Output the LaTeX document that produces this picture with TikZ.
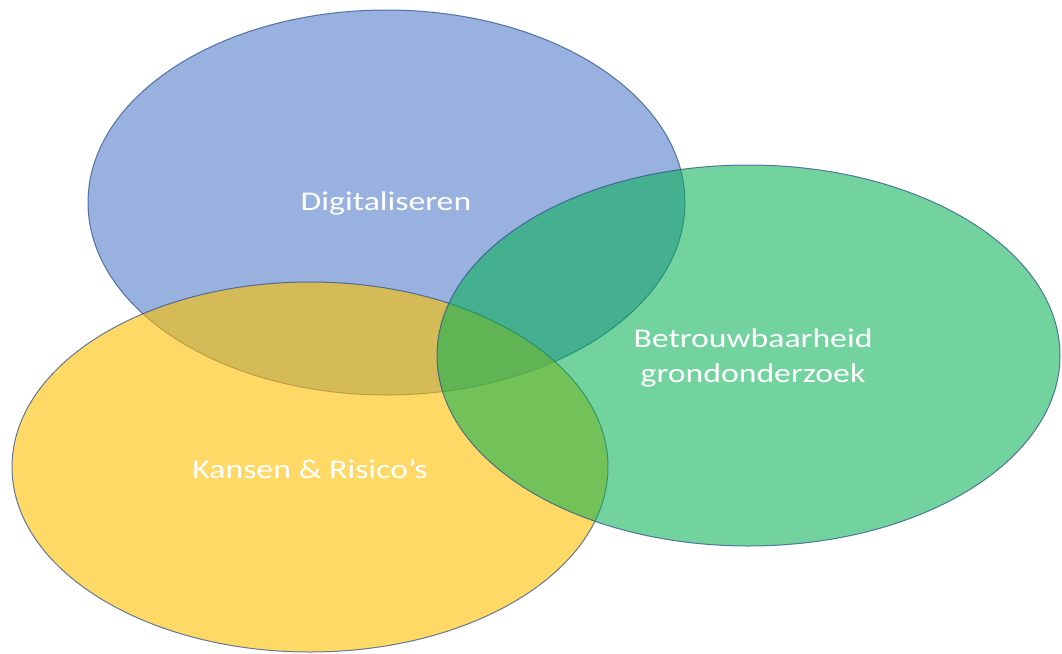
\documentclass[tikz,border=0pt]{standalone}
\usepackage{fontspec}
\setmainfont{Carlito}
\definecolor{cblue}{HTML}{4472C4}
\definecolor{cgold}{HTML}{FFC000}
\definecolor{cgreen}{HTML}{00B050}
\definecolor{cline}{HTML}{2F528F}
\begin{document}
\begin{tikzpicture}[x=1pt,y=-1pt,
  venn/.style={draw=cline, line width=1pt, draw opacity=0.75, fill opacity=0.6},
  lbl/.style={text=white, font=\fontsize{27}{35}\selectfont, xscale=1.25, transform shape, align=center, inner sep=0pt}]
\useasboundingbox (0,0) rectangle (1062,653);
\fill[white] (0,0) rectangle (1062,653);
\path[venn, fill=cblue, fill opacity=0.55] (386.5,202.5) ellipse [x radius=298.5, y radius=192.5];
\path[venn, fill=cgold] (310,467) ellipse [x radius=298, y radius=185];
\path[venn, fill=cgreen, fill opacity=0.55] (748.5,355.5) ellipse [x radius=311.5, y radius=190.5];
\node[lbl, anchor=base] (dig) at (386,210) {Digitaliseren};
\node[lbl, anchor=base] (kans) at (310,478) {Kansen \& Risico’s};
\node[lbl] (betr) at (753,358) {Betrouwbaarheid\\grondonderzoek};
\end{tikzpicture}
\end{document}
